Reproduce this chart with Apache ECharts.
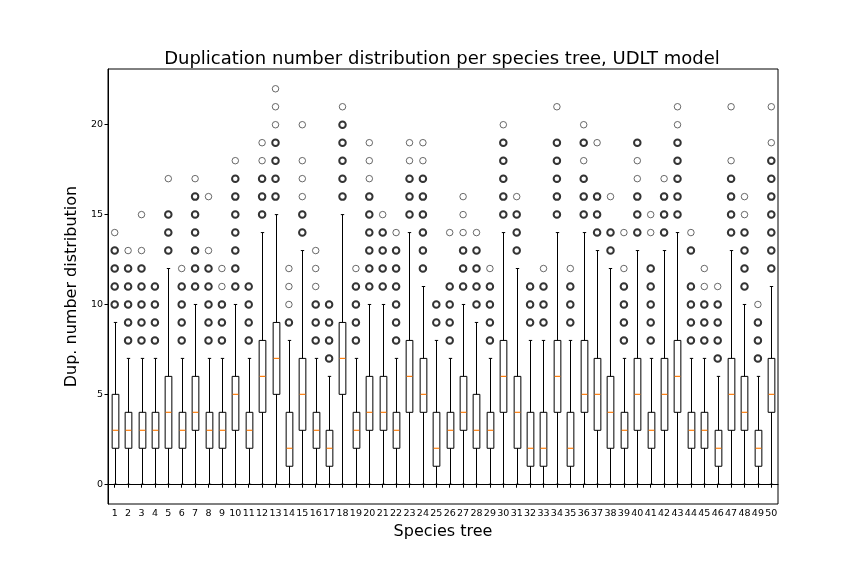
<!DOCTYPE html>
<html>
<head>
<meta charset="utf-8">
<script src="https://cdn.jsdelivr.net/npm/echarts@6/dist/echarts.min.js"></script>
<style>
html,body{margin:0;padding:0;background:#fff;}
#chart{width:864px;height:576px;}
</style>
</head>
<body>
<div id="chart"></div>
<script>
// ---- data ----
const categories = ["1","2","3","4","5","6","7","8","9","10","11","12","13","14","15","16","17","18","19","20","21","22","23","24","25","26","27","28","29","30","31","32","33","34","35","36","37","38","39","40","41","42","43","44","45","46","47","48","49","50"];
const whiskerLow = [0,0,0,0,0,0,0,0,0,0, 0,0,0,0,0,0,0,0,0,0, 0,0,0,0,0,0,0,0,0,0, 0,0,0,0,0,0,0,0,0,0, 0,0,0,0,0,0,0,0,0,0];
const q1 = [2,2,2,2,2,2,3,2,2,3, 2,4,5,1,3,2,1,5,2,3, 3,2,4,4,1,2,3,2,2,4, 2,1,1,4,1,4,3,2,2,3, 2,3,4,2,2,1,3,3,1,4];
const median = [3,3,3,3,4,3,4,3,3,5, 3,6,7,2,5,3,2,7,3,4, 4,3,6,5,2,3,4,3,3,6, 4,2,2,6,2,5,5,4,3,5, 3,5,6,3,3,2,5,4,2,5];
const q3 = [5,4,4,4,6,4,6,4,4,6, 4,8,9,4,7,4,3,9,4,6, 6,4,8,7,4,4,6,5,4,8, 6,4,4,8,4,8,7,6,4,7, 4,7,8,4,4,3,7,6,3,7];
const whiskerHigh = [9,7,7,7,12,7,10,7,7,10, 7,14,15,8,13,7,6,15,7,10, 10,7,14,11,8,7,10,9,7,14, 12,8,8,14,8,14,13,12,7,13, 7,13,14,7,7,6,13,10,6,11];
// outliers shared by many trees (overlapping markers)
const outliersFrequent = [
  [10,11,12,13],[8,9,10,11,12],[8,9,10,11,12],[8,9,10,11],[13,14,15],
  [8,9,10,11],[11,12,13,14,15,16],[8,9,10,11,12],[8,9,10],[11,12,13,14,15,16,17],
  [8,9,10,11],[15,16,17],[16,17,18,19],[9],[14,15],
  [8,9,10],[7,8,9,10],[16,17,18,19,20],[8,9,10,11],[11,12,13,14,15,16],
  [11,12,13,14],[8,9,10,11,12,13],[15,16,17],[12,13,14,15,16,17],[9,10],
  [8,9,10,11],[11,12,13],[10,11,12,13],[8,9,10,11],[15,16,17,18,19],
  [13,14,15],[9,10,11],[9,10,11],[15,16,17,18,19],[9,10,11],
  [15,16,17,19],[14,15,16],[13,14],[8,9,10,11],[14,15,16,19],
  [8,9,10,11,12],[14,15,16],[15,16,17,18,19],[8,9,10,11,13],[8,9,10],
  [7,8,9,10],[14,15,16,17],[11,12,13,14],[7,8,9],[12,13,14,15,16,17,18]
];
// outliers from single trees
const outliersRare = [
  [14],[13],[13,15],[],[17],
  [12],[17],[13,16],[11,12],[18],
  [],[18,19],[20,21,22],[10,11,12],[16,17,18,20],
  [11,12,13],[],[21],[12],[17,18,19],
  [15],[14],[18,19],[18,19],[],
  [14],[14,15,16],[14],[12],[20],
  [16],[],[12],[21],[12],
  [18,20],[19],[16],[12,14],[17,18],
  [14,15],[17],[20,21],[14],[11,12],
  [11],[18,21],[15,16],[10],[19,21]
];
const yTicks = [0,5,10,15,20];

// ---- build series data ----
const boxData = categories.map((c, i) => [i, whiskerLow[i], q1[i], median[i], q3[i], whiskerHigh[i]]);
const freqPts = [], rarePts = [];
outliersFrequent.forEach((arr, i) => arr.forEach(v => freqPts.push([categories[i], v])));
outliersRare.forEach((arr, i) => arr.forEach(v => rarePts.push([categories[i], v])));

function renderBox(params, api) {
  const idx = api.value(0);
  const pLow = api.coord([idx, api.value(1)]);
  const pQ1 = api.coord([idx, api.value(2)]);
  const pMed = api.coord([idx, api.value(3)]);
  const pQ3 = api.coord([idx, api.value(4)]);
  const pHigh = api.coord([idx, api.value(5)]);
  const bw = api.size([1, 0])[0] * 0.5;
  const cw = bw * 0.5;
  const x = Math.round(pQ1[0]) + 0.5;
  const st = { stroke: '#000', lineWidth: 1, fill: null };
  return {
    type: 'group',
    children: [
      { type: 'line', shape: { x1: x, y1: pLow[1], x2: x, y2: pQ1[1] }, style: st },
      { type: 'line', shape: { x1: x, y1: pQ3[1], x2: x, y2: pHigh[1] }, style: st },
      { type: 'line', shape: { x1: x - cw/2, y1: pLow[1], x2: x + cw/2, y2: pLow[1] }, style: st },
      { type: 'line', shape: { x1: x - cw/2, y1: pHigh[1], x2: x + cw/2, y2: pHigh[1] }, style: st },
      { type: 'rect', shape: { x: x - bw/2, y: pQ3[1], width: bw, height: pQ1[1] - pQ3[1] }, style: { stroke: '#000', lineWidth: 1, fill: 'rgba(0,0,0,0)' } },
      { type: 'line', shape: { x1: x - bw/2 + 0.5, y1: pMed[1], x2: x + bw/2 - 0.5, y2: pMed[1] }, style: { stroke: '#ff7f0e', lineWidth: 1.2 } }
    ]
  };
}

const chart = echarts.init(document.getElementById('chart'), null, { renderer: 'canvas' });
chart.setOption({
  animation: false,
  backgroundColor: '#fff',
  textStyle: { fontFamily: 'DejaVu Sans' },
  title: {
    text: 'Duplication number distribution per species tree, UDLT model',
    left: 437, top: 45, textAlign: 'center',
    textStyle: { fontFamily: 'DejaVu Sans', fontSize: 18, fontWeight: 'normal', color: '#000' }
  },
  grid: { left: 108, right: 86, top: 69, bottom: 72, show: true, borderColor: '#000', borderWidth: 1, containLabel: false },
  xAxis: {
    type: 'category', data: categories, boundaryGap: true,
    name: 'Species tree', nameLocation: 'middle', nameGap: 20,
    nameTextStyle: { fontFamily: 'DejaVu Sans', fontSize: 16, color: '#000' },
    axisLine: { show: true, lineStyle: { color: '#000', width: 1 } },
    axisTick: { show: true, alignWithLabel: true, length: 3.5, lineStyle: { color: '#000' } },
    axisLabel: { interval: 0, fontSize: 9.5, color: '#000', margin: 5, fontFamily: 'DejaVu Sans' },
    splitLine: { show: false }
  },
  yAxis: {
    type: 'value', min: -1.1, max: 23.1,
    name: 'Dup. number distribution', nameLocation: 'middle', nameGap: 24,
    nameTextStyle: { fontFamily: 'DejaVu Sans', fontSize: 16, color: '#000' },
    axisLine: { show: true, lineStyle: { color: '#000', width: 1 } },
    axisTick: { show: true, length: 3.5, lineStyle: { color: '#000' }, customValues: yTicks },
    axisLabel: { fontSize: 9.5, color: '#000', margin: 5, fontFamily: 'DejaVu Sans', customValues: yTicks },
    splitLine: { show: false }
  },
  series: [
    { type: 'custom', renderItem: renderBox, data: boxData, encode: { x: 0, y: [1,2,3,4,5] }, z: 2 },
    { type: 'scatter', data: freqPts, symbol: 'circle', symbolSize: 6.5,
      itemStyle: { color: 'rgba(0,0,0,0)', borderColor: '#000', borderWidth: 2 }, z: 3 },
    { type: 'scatter', data: rarePts, symbol: 'circle', symbolSize: 6.5,
      itemStyle: { color: 'rgba(0,0,0,0)', borderColor: '#444', borderWidth: 1 }, z: 3 }
  ]
});
</script>
</body>
</html>
